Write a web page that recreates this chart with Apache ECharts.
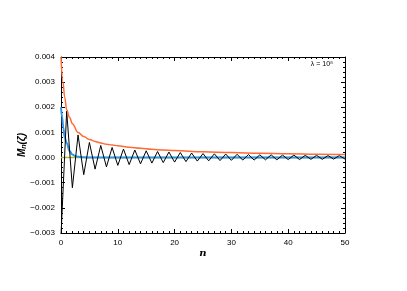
<!DOCTYPE html>
<html><head><meta charset="utf-8">
<script src="https://cdn.jsdelivr.net/npm/echarts@6/dist/echarts.min.js"></script>
<style>html,body{margin:0;padding:0;background:#fff}#c{width:407px;height:291px}</style>
</head><body><div id="c"></div>
<script>
var xTicks = [0, 10, 20, 30, 40, 50];
var yTicks = [-0.003, -0.002, -0.001, 0, 0.001, 0.002, 0.003, 0.004];
var blackN = [0,1,2,3,4,5,6,7,8,9,10,11,12,13,14,15,16,17,18,19,20,21,22,23,24,25,26,27,28,29,30,31,32,33,34,35,36,37,38,39,40,41,42,43,44,45,46,47,48,49,50];
var blackV = [-0.0031,0.00185,-0.0012,0.0009,-0.00068,0.0006,-0.00046,0.00048,-0.00037,0.0004,-0.00031,0.00034,-0.00028,0.0003,-0.00025,0.00027,-0.00022,0.00024,-0.0002,0.00022,-0.00018,0.0002,-0.00016,0.00018,-0.00014,0.00016,-0.00013,0.00015,-0.00012,0.00014,-0.00011,0.00013,-0.0001,0.00012,-0.0001,0.00011,-0.00009,0.00011,-0.00009,0.0001,-0.00008,0.0001,-0.00008,0.00009,-0.00007,0.00009,-0.00007,0.00008,-0.00006,0.00008,-0.00006];
var orangeN = [0,0.35,0.65,1,1.5,2,3,4,5,6,7,8,9,10,12,14,16,18,20,25,30,35,40,45,50];
var orangeV = [0.004,0.003,0.0024,0.0019,0.0016,0.00135,0.001,0.00084,0.00072,0.00064,0.00058,0.00053,0.0005,0.00047,0.00041,0.00037,0.00033,0.0003,0.00028,0.00023,0.0002,0.00017,0.00015,0.00013,0.00012];
var blueN = [0,0.2,0.4,0.65,1,1.5,2,2.5,3,4,5,50];
var blueV = [0.002,0.0016,0.0012,0.0008,0.00058,0.00026,0.00012,0.00006,0.00003,0.00001,0,0];
var yellowN = [0, 50];
var yellowV = [0, 0];

function pairs(a, b) { return a.map(function (v, i) { return [v, b[i]]; }); }
function fmtY(v) {
  if (Math.abs(v) < 1e-9) return '0.000';
  var s = v.toFixed(3);
  return s.charAt(0) === '-' ? '\u2212' + s.slice(1) : s;
}
var font = 'Liberation Sans';
var tickCommon = { show: true, inside: true, length: 4, lineStyle: { color: '#000', width: 1 } };
var minorCommon = { show: true, length: 2, lineStyle: { color: '#000', width: 1 } };
var lineCommon = { show: true, onZero: false, lineStyle: { color: '#000', width: 1 } };
var chart = echarts.init(document.getElementById('c'), null, { renderer: 'canvas' });
chart.setOption({
  animation: false,
  backgroundColor: '#fff',
  grid: { left: 61, right: 62, top: 57, bottom: 58 },
  xAxis: [{
    type: 'value', min: xTicks[0], max: xTicks[xTicks.length - 1], interval: 10,
    axisLine: lineCommon,
    axisTick: tickCommon, minorTick: Object.assign({ splitNumber: 10 }, minorCommon),
    splitLine: { show: false },
    axisLabel: { color: '#000', fontFamily: font, fontSize: 8, margin: 6 },
    name: 'n', nameLocation: 'middle', nameGap: 15, nameMoveOverlap: false,
    nameTextStyle: { color: '#000', fontFamily: 'DejaVu Serif', fontStyle: 'italic', fontWeight: 'bold', fontSize: 10 }
  }, {
    type: 'value', position: 'top', min: 0, max: 50, interval: 10,
    axisLine: lineCommon,
    axisTick: tickCommon, minorTick: Object.assign({ splitNumber: 10 }, minorCommon),
    splitLine: { show: false }, axisLabel: { show: false }
  }],
  yAxis: [{
    type: 'value', min: yTicks[0], max: yTicks[yTicks.length - 1], interval: 0.001,
    axisLine: lineCommon,
    axisTick: tickCommon, minorTick: Object.assign({ splitNumber: 5 }, minorCommon),
    splitLine: { show: false },
    axisLabel: { color: '#000', fontFamily: font, fontSize: 8, margin: 6, formatter: fmtY },
    name: '{m|M}{s|n}{p|(ζ)}', nameLocation: 'middle', nameGap: 33, nameRotate: 90, nameMoveOverlap: false,
    nameTextStyle: {
      color: '#000',
      rich: {
        m: { fontFamily: font, fontStyle: 'italic', fontWeight: 'bold', fontSize: 10 },
        s: { fontFamily: font, fontStyle: 'italic', fontWeight: 'bold', fontSize: 7, verticalAlign: 'bottom', padding: [5, 0, 0, 0] },
        p: { fontFamily: font, fontStyle: 'italic', fontWeight: 'bold', fontSize: 10 }
      }
    }
  }, {
    type: 'value', position: 'right', min: yTicks[0], max: yTicks[yTicks.length - 1], interval: 0.001,
    axisLine: lineCommon,
    axisTick: tickCommon, minorTick: Object.assign({ splitNumber: 5 }, minorCommon),
    splitLine: { show: false }, axisLabel: { show: false }
  }],
  graphic: [{
    type: 'text', right: 74, top: 61,
    style: { text: 'λ = 10⁸', fill: '#000', font: '7px "Liberation Sans"' }
  }],
  series: [
    { type: 'line', data: pairs(yellowN, yellowV), showSymbol: false, clip: true,
      lineStyle: { color: '#b5b53c', width: 1.5 } },
    { type: 'line', data: pairs(blueN, blueV), showSymbol: false, smooth: 0.4, smoothMonotone: 'x', clip: true,
      lineStyle: { color: '#2f96ee', width: 2 } },
    { type: 'line', data: pairs(blackN, blackV), showSymbol: false, clip: true,
      lineStyle: { color: '#000', width: 1 } },
    { type: 'line', data: pairs(orangeN, orangeV), showSymbol: false, smooth: 0.4, smoothMonotone: 'x', clip: true,
      lineStyle: { color: '#ff6a35', width: 1.5 } }
  ]
});
</script></body></html>
